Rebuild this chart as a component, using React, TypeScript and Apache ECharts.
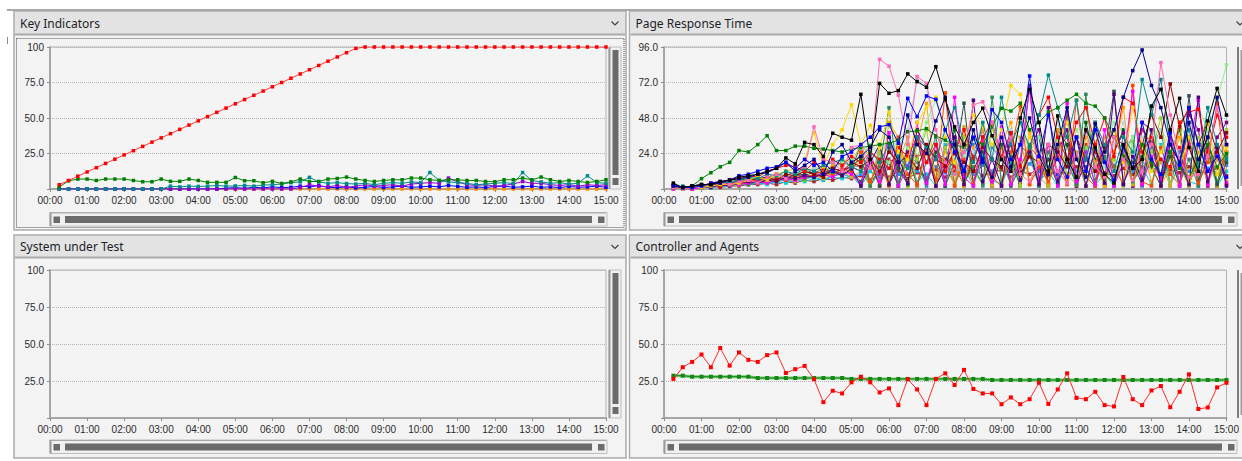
import React, { useEffect, useRef } from "react";
import * as echarts from "echarts";

// ---- axis labels -------------------------------------------------------
const timeLabels = [
  "00:00", "01:00", "02:00", "03:00", "04:00", "05:00", "06:00", "07:00",
  "08:00", "09:00", "10:00", "11:00", "12:00", "13:00", "14:00", "15:00",
];
const percentTickLabels = ["", "25.0", "50.0", "75.0", "100"];
const responseTickLabels = ["", "24.0", "48.0", "72.0", "96.0"];
const SAMPLE_STEP_SECONDS = 15;

// ---- Key Indicators (one sample every 15 s, 00:15 .. 15:00) ------------
const userLoad = [
  3, 6, 9, 12, 15, 18, 21, 24, 27, 30, 33, 36, 39, 42, 45, 48, 51, 54, 57, 60,
  63, 66, 69, 72, 75, 78, 81, 84, 87, 90, 93, 96, 99, 100, 100, 100, 100, 100, 100, 100,
  100, 100, 100, 100, 100, 100, 100, 100, 100, 100, 100, 100, 100, 100, 100, 100, 100, 100, 100, 100,
];
const testsPerSec = [
  1.4, 5.8, 7, 7, 6, 7, 7, 7, 6, 5.1, 5.1, 7, 5.4, 5.4, 7, 6, 4.7, 4.7, 4.7, 8.1,
  5.8, 5.8, 4.4, 5.4, 3.9, 5, 7, 5.3, 5.3, 7, 7.4, 8.4, 7, 6, 5.3, 6, 6.5, 6.5, 7.7, 7.7,
  6.5, 6, 6.5, 6.5, 6, 6, 5.3, 5.1, 6.5, 6.5, 7.7, 6.5, 8.4, 6.5, 5.3, 6, 5.3, 4.6, 5.3, 6.5,
];
const pagesPerSec = [
  0, 0, 0, 0, 0, 0, 0, 0, 0, 0, 0, 0, 2, 1.5, 2, 1.8, 2, 2.5, 2, 2.2,
  2.5, 2, 2.8, 3, 3.5, 4.5, 5, 8.2, 5, 4, 4.5, 3.8, 3.5, 4, 3, 4, 4.5, 4, 5, 4.5,
  11.6, 6, 5, 4.5, 4, 3, 3.5, 4, 4.5, 3.8, 11.6, 6, 5, 4, 4.5, 3.5, 4, 9.3, 4.5, 4,
];
const errorsPerSec = [
  0, 0, 0, 0, 0, 0, 0, 0, 0, 0, 0, 0, 0, 0, 0, 0, 0, 0, 0, 0,
  0, 0, 0, 0, 0, 0, 1, 3, 2, 1.5, 2.5, 1, 2, 3, 2, 2.5, 3, 2, 3.5, 4,
  4.5, 4, 7.7, 5, 3, 2.5, 3, 2, 2.5, 3.5, 5.3, 4, 4, 3, 2.5, 3, 2, 3, 2.5, 3,
];
const avgPageTime = [
  0, 0, 0, 0, 0, 0, 0, 0, 0, 0, 0, 0, 0, 0, 0, 0, 0, 0, 0.6, 1,
  0.5, 1.2, 0.8, 1.5, 1, 1.2, 2, 1.5, 2.4, 1.2, 1, 1.5, 0.8, 1.2, 1.8, 1, 1.5, 2, 1.2, 1.5,
  2, 1.5, 2.5, 1.8, 1.2, 1.5, 1, 1.8, 2, 1.2, 1.5, 2, 1.2, 1.5, 1, 1.8, 1.2, 1.5, 2, 1.2,
];
const avgTestTime = [
  0, 0, 0, 0, 0, 0, 0, 0, 0, 0, 0, 0, 0, 0, 0, 0, 0, 0, 0, 0,
  0, 0, 0, 0, 0, 0, 0, 0, 0, 0, 0, 0, 0, 0, 0, 0, 0, 0, 0, 0,
  0, 0, 0, 0, 0, 0, 0, 0, 0, 0, 0, 0, 0, 0, 0, 0, 0, 0, 0, 0,
];

// ---- Page Response Time (seconds, per page) ----------------------------
const prtLowBrown = [
  1, 0, 0, 1, 2, 1, 2, 2, 3, 3, 4, 3, 5, 4, 6, 5, 7, 6, 8, 7,
  9, 6, 10, 8, 12, 7, 11, 9, 13, 8, 12, 10, 14, 9, 11, 13, 8, 12, 10, 14,
  9, 12, 10, 15, 8, 13, 11, 9, 14, 10, 12, 16, 9, 13, 11, 15, 10, 12, 14, 9,
];
const prtLowDodger = [
  0, 0, 1, 1, 1, 2, 2, 3, 3, 4, 4, 5, 6, 5, 7, 8, 6, 9, 10, 8,
  10, 12, 8, 14, 10, 16, 12, 9, 15, 11, 18, 13, 10, 16, 12, 20, 14, 10, 17, 12,
  15, 10, 18, 12, 20, 14, 10, 16, 22, 12, 18, 14, 20, 10, 16, 12, 18, 14, 10, 16,
];
const prtCyan = [
  0, 0, 1, 1, 1, 2, 2, 3, 3, 4, 3, 5, 4, 6, 5, 7, 6, 8, 7, 9,
  2, 12, 4, 18, 2, 25, 5, 10, 2, 30, 4, 15, 2, 22, 6, 3, 18, 2, 26, 5,
  12, 2, 20, 4, 28, 3, 10, 2, 24, 5, 15, 3, 30, 2, 18, 5, 3, 22, 2, 12,
];
const prtMagenta = [
  0, 1, 0, 1, 2, 2, 3, 3, 4, 5, 4, 6, 7, 6, 8, 9, 10, 8, 12, 10,
  3, 25, 5, 38, 2, 15, 45, 4, 30, 3, 62, 8, 2, 35, 5, 42, 3, 20, 68, 4,
  30, 2, 58, 5, 25, 3, 40, 2, 18, 66, 3, 22, 6, 38, 2, 30, 60, 3, 25, 4,
];
const prtIndigo = [
  1, 0, 1, 2, 1, 3, 2, 4, 5, 4, 6, 5, 8, 7, 9, 8, 10, 12, 9, 14,
  2, 18, 30, 3, 22, 4, 40, 28, 2, 15, 35, 3, 60, 5, 20, 2, 38, 6, 25, 3,
  55, 5, 20, 35, 2, 28, 4, 64, 3, 22, 6, 40, 2, 30, 18, 3, 62, 5, 28, 2,
];
const prtYellowGreen = [
  0, 0, 1, 1, 2, 3, 2, 3, 4, 5, 6, 5, 7, 8, 6, 10, 8, 12, 10, 15,
  18, 3, 25, 6, 32, 2, 20, 40, 5, 28, 2, 36, 12, 3, 44, 6, 25, 2, 30, 8,
  2, 35, 10, 3, 28, 42, 4, 20, 2, 32, 5, 25, 48, 3, 15, 2, 35, 22, 3, 40,
];
const prtTomato = [
  1, 1, 0, 2, 2, 3, 4, 3, 5, 6, 5, 7, 6, 9, 8, 10, 12, 9, 14, 11,
  25, 5, 18, 2, 35, 10, 3, 28, 6, 65, 2, 20, 4, 32, 8, 2, 25, 56, 3, 15,
  5, 22, 3, 60, 8, 2, 30, 15, 3, 70, 5, 2, 28, 10, 3, 35, 4, 18, 58, 3,
];
const prtSlate = [
  2, 1, 1, 2, 3, 2, 4, 5, 4, 6, 7, 6, 8, 9, 10, 8, 11, 13, 10, 12,
  5, 20, 2, 28, 14, 3, 35, 6, 22, 2, 18, 58, 3, 25, 5, 30, 2, 15, 70, 6,
  20, 3, 52, 5, 15, 2, 25, 66, 4, 18, 3, 32, 5, 22, 2, 63, 6, 28, 3, 18,
];
const prtSea = [
  1, 0, 2, 1, 2, 3, 3, 4, 3, 5, 6, 7, 6, 8, 7, 9, 10, 11, 9, 13,
  30, 2, 15, 55, 4, 22, 3, 18, 35, 2, 28, 5, 15, 3, 62, 4, 22, 6, 30, 2,
  25, 4, 18, 3, 64, 6, 22, 2, 30, 5, 15, 56, 3, 25, 4, 20, 2, 35, 5, 22,
];
const prtGoldenrod = [
  0, 1, 1, 1, 2, 2, 3, 4, 3, 5, 4, 6, 7, 5, 8, 9, 7, 10, 12, 8,
  12, 2, 30, 4, 18, 35, 2, 25, 5, 15, 3, 42, 6, 20, 2, 28, 5, 35, 3, 18,
  3, 40, 5, 25, 2, 18, 35, 4, 22, 3, 30, 5, 18, 2, 45, 4, 25, 3, 20, 5,
];
const prtSteel = [
  1, 1, 2, 2, 3, 3, 4, 5, 6, 6, 7, 8, 10, 9, 12, 11, 13, 14, 12, 16,
  15, 2, 12, 20, 3, 22, 18, 2, 25, 20, 3, 25, 30, 2, 28, 20, 3, 30, 22, 2,
  20, 3, 30, 22, 2, 28, 20, 3, 25, 35, 2, 28, 40, 3, 25, 35, 2, 22, 30, 3,
];
const prtCrimson = [
  2, 1, 1, 2, 3, 4, 4, 5, 6, 5, 7, 9, 8, 10, 12, 10, 14, 11, 13, 15,
  12, 18, 2, 20, 17, 3, 22, 25, 2, 20, 15, 3, 22, 18, 2, 30, 20, 3, 28, 22,
  3, 28, 35, 2, 30, 25, 3, 35, 30, 2, 40, 30, 3, 35, 28, 2, 30, 25, 3, 30,
];
const prtDarkGreen = [
  2, 1, 2, 3, 2, 4, 5, 6, 7, 6, 8, 10, 9, 12, 14, 10, 12, 15, 18, 16,
  20, 3, 25, 18, 2, 30, 20, 4, 25, 18, 40, 2, 20, 35, 3, 30, 22, 2, 28, 35,
  2, 40, 30, 3, 45, 20, 2, 25, 40, 3, 22, 15, 2, 25, 40, 3, 20, 35, 2, 25,
];
const prtPurple = [
  1, 0, 1, 1, 2, 3, 3, 4, 4, 5, 6, 6, 8, 10, 9, 12, 10, 14, 12, 15,
  18, 4, 22, 3, 16, 25, 2, 30, 5, 28, 35, 3, 25, 40, 2, 22, 35, 4, 28, 40,
  3, 25, 40, 2, 20, 45, 3, 25, 38, 2, 45, 40, 5, 35, 3, 50, 40, 2, 35, 45,
];
const prtOrange = [
  0, 1, 1, 2, 2, 3, 4, 4, 5, 6, 8, 7, 10, 9, 12, 14, 12, 16, 20, 18,
  30, 22, 3, 45, 35, 2, 30, 58, 4, 25, 18, 2, 28, 40, 3, 30, 45, 2, 38, 25,
  2, 30, 48, 3, 35, 18, 2, 25, 55, 3, 20, 40, 2, 15, 35, 3, 20, 30, 2, 25,
];
const prtLightBlue = [
  1, 1, 2, 2, 3, 4, 5, 5, 6, 8, 7, 9, 10, 12, 11, 14, 16, 18, 15, 20,
  25, 30, 22, 35, 28, 40, 74, 70, 30, 40, 20, 35, 25, 45, 30, 20, 40, 28, 35, 22,
  30, 45, 20, 35, 25, 40, 15, 30, 45, 20, 35, 25, 40, 30, 20, 45, 30, 38, 22, 30,
];
const prtLightGreen = [
  0, 1, 1, 2, 2, 3, 3, 4, 5, 6, 5, 8, 9, 10, 12, 8, 15, 12, 18, 20,
  22, 30, 25, 18, 35, 28, 20, 45, 60, 40, 30, 22, 35, 18, 40, 30, 20, 45, 25, 35,
  20, 30, 15, 40, 25, 12, 30, 45, 20, 35, 15, 40, 28, 20, 45, 30, 55, 40, 60, 84,
];
const prtDarkRed = [
  1, 1, 1, 2, 3, 2, 4, 5, 6, 7, 8, 6, 10, 9, 12, 10, 8, 14, 12, 18,
  15, 20, 12, 25, 18, 22, 14, 30, 20, 16, 24, 18, 12, 28, 20, 15, 30, 10, 22, 18,
  30, 25, 15, 35, 20, 12, 28, 40, 22, 15, 30, 50, 35, 71, 42, 55, 30, 45, 25, 38,
];
const prtRed = [
  2, 1, 2, 2, 4, 5, 6, 7, 9, 8, 12, 14, 16, 15, 12, 18, 14, 20, 16, 22,
  18, 25, 20, 14, 28, 22, 35, 18, 30, 12, 25, 40, 20, 35, 45, 22, 38, 15, 28, 50,
  62, 35, 20, 45, 55, 30, 48, 22, 62, 58, 25, 35, 20, 15, 45, 52, 54, 25, 50, 35,
];
const prtGold = [
  1, 0, 1, 1, 2, 3, 3, 4, 6, 8, 6, 10, 12, 14, 20, 38, 15, 30, 40, 57,
  30, 43, 28, 52, 25, 20, 45, 55, 62, 35, 18, 30, 50, 42, 30, 40, 70, 64, 35, 20,
  12, 30, 45, 20, 8, 38, 25, 40, 18, 55, 30, 12, 25, 40, 15, 35, 20, 45, 10, 28,
];
const prtTeal = [
  1, 2, 1, 2, 3, 5, 4, 6, 8, 7, 10, 9, 12, 10, 14, 12, 16, 18, 20, 15,
  12, 25, 18, 30, 22, 14, 35, 28, 20, 40, 55, 30, 18, 45, 20, 62, 30, 45, 28, 50,
  77, 55, 35, 60, 20, 45, 30, 12, 35, 25, 74, 50, 74, 30, 20, 40, 15, 55, 30, 20,
];
const prtNavy = [
  2, 1, 2, 3, 3, 4, 6, 7, 8, 10, 11, 14, 18, 12, 16, 20, 10, 25, 30, 18,
  22, 28, 40, 35, 18, 50, 30, 24, 46, 62, 30, 12, 40, 20, 8, 35, 15, 30, 48, 22,
  10, 30, 55, 20, 8, 44, 25, 40, 62, 80, 94, 70, 55, 30, 18, 45, 20, 35, 62, 30,
];
const prtGreen = [
  2, 1, 2, 7, 11, 15, 18, 26, 25, 30, 36, 26, 26, 29, 29, 27.5, 27, 26, 25, 27,
  28, 29, 30, 31, 33, 38.7, 39.3, 40.8, 36, 33, 30, 28, 34, 30, 42, 54.6, 52.7, 58, 40, 45,
  52, 55, 60, 64, 58, 56, 48, 35, 22, 15, 30, 18, 10, 25, 14, 8, 20, 30, 15, 24,
];
const prtPink = [
  1, 0, 1, 2, 3, 4, 3, 5, 6, 4, 8, 10, 7, 12, 15, 42, 20, 18, 12, 28,
  30, 14, 87.7, 83, 63.5, 30, 76, 71.4, 40, 18, 10, 25, 56.8, 59, 45, 20, 35, 10, 5, 18,
  30, 12, 4, 22, 40, 15, 8, 35, 20, 6, 12, 30, 85.4, 50, 20, 8, 10, 22, 55, 30,
];
const prtBlue = [
  3, 1, 1, 2, 4, 5, 6, 9, 10, 12, 14, 15, 18, 14, 20, 16, 18, 12, 22, 25,
  30, 35, 42, 43.5, 30.9, 61.3, 49, 62.9, 60.6, 40, 25, 12, 35, 18, 53.6, 45, 20, 30, 76.4, 22,
  50, 20, 8, 35, 12, 40, 18, 6, 28, 14, 45, 20, 10, 38, 16, 55, 30, 12, 22, 8,
];
const prtBlack = [
  4, 1, 2, 3, 3, 5, 6, 8, 9, 10, 12, 14, 21, 17, 31.5, 30, 22, 37.7, 35, 33,
  64, 20, 71.4, 64.7, 66.5, 77.8, 72.6, 68.8, 82.7, 60.6, 42, 30, 45, 54.6, 36, 20, 12, 48, 67.4, 45,
  12, 49.4, 20, 8, 40, 28, 10, 4, 30, 14, 20, 56, 67.4, 40, 61.3, 28, 12, 46, 68, 50,
];

// ---- Controller and Agents ----------------------------------------------
const processorTime = [
  26.4, 34.3, 37.9, 42.9, 34.3, 47.3, 35.4, 44.3, 39.3, 37.9, 42.5, 44.3, 30.4, 33, 35.2, 26.2, 10.7, 18.4, 16.6, 24.1,
  27.9, 24.1, 17.3, 20, 8.7, 26.2, 19.3, 8.7, 26.4, 30.2, 22.3, 32.5, 19.6, 16.6, 16.6, 9.3, 13.9, 9.3, 12.7, 23.8,
  9.5, 19.3, 30.2, 13.6, 12.7, 17.7, 8.7, 7.8, 27.7, 12.7, 8.7, 18.6, 21.6, 7.3, 17.7, 29.5, 6.1, 7.1, 20.7, 23.8,
];
const availableMemory = [
  28.6, 28.6, 27.9, 27.9, 27.9, 27.9, 27.9, 27.9, 27.9, 27, 27, 27, 27, 27, 27, 27, 27, 27, 27, 26.4,
  26.4, 26.4, 26.4, 26.4, 26.4, 26.4, 26.4, 26.4, 26.4, 26.4, 26.4, 26.4, 26.4, 26.4, 25.7, 25.7, 25.7, 25.7, 25.7, 25.7,
  25.7, 25.7, 25.7, 25.7, 25.7, 25.7, 25.7, 25.7, 25.7, 25.7, 25.7, 25.7, 25.7, 25.7, 25.7, 25.7, 25.7, 25.7, 25.7, 25.7,
];

// ---- layout -------------------------------------------------------------
type Box = { x: number; y: number; w: number; h: number };
interface PanelLayout {
  title: string;
  frame: Box;
  headerH: number;
  plot: Box;
  chevronX: number;
  hScrollY: number;
  clippedRight: boolean;
}

const PANELS: PanelLayout[] = [
  { title: "Key Indicators", frame: { x: 14, y: 11, w: 612, h: 219 }, headerH: 24, plot: { x: 50, y: 47, w: 556, h: 142 }, chevronX: 615, hScrollY: 212.5, clippedRight: false },
  { title: "Page Response Time", frame: { x: 629.5, y: 11, w: 620, h: 219 }, headerH: 24, plot: { x: 664, y: 47, w: 572, h: 142 }, chevronX: 1240, hScrollY: 212.5, clippedRight: true },
  { title: "System under Test", frame: { x: 14, y: 235, w: 612, h: 223 }, headerH: 23, plot: { x: 50, y: 270, w: 556, h: 148 }, chevronX: 615, hScrollY: 440, clippedRight: false },
  { title: "Controller and Agents", frame: { x: 629.5, y: 235, w: 620, h: 223 }, headerH: 23, plot: { x: 664, y: 270, w: 572, h: 148 }, chevronX: 1240, hScrollY: 440, clippedRight: true },
];

const SCROLL_DARK = "#6B6B6B";
const LABEL_FONT = "Liberation Sans";

function panelChrome(p: PanelLayout): any[] {
  const { frame, plot } = p;
  const els: any[] = [];
  els.push({
    type: "rect", z: -5,
    shape: { x: frame.x, y: frame.y, width: frame.w, height: frame.h },
    style: { fill: "#F3F3F3", stroke: "#ABABAB", lineWidth: 1.5 },
  });
  els.push({
    type: "rect", z: -4,
    shape: { x: frame.x + 1, y: frame.y + 1, width: frame.w - 2, height: p.headerH - 2 },
    style: { fill: "#E3E3E3" },
  });
  els.push({
    type: "line", z: -3,
    shape: { x1: frame.x + 1, y1: frame.y + p.headerH - 0.5, x2: frame.x + frame.w - 1, y2: frame.y + p.headerH - 0.5 },
    style: { stroke: "#ABABAB", lineWidth: 2 },
  });
  els.push({
    type: "text", z: 10,
    style: {
      x: frame.x + 6, y: frame.y + p.headerH / 2, text: p.title,
      font: "12px 'Noto Sans'", fill: "#1E1E2A", verticalAlign: "middle",
    },
  });
  const cy = frame.y + p.headerH / 2;
  els.push({
    type: "polyline", z: 10,
    shape: { points: [[p.chevronX - 3.5, cy - 1.5], [p.chevronX, cy + 2], [p.chevronX + 3.5, cy - 1.5]] },
    style: { stroke: "#404040", lineWidth: 1.2, fill: null },
  });

  // horizontal scroll bar
  const hy = p.hScrollY;
  els.push({
    type: "rect", z: 1,
    shape: { x: plot.x, y: hy, width: plot.w + 1, height: 13.5 },
    style: { fill: "#F0F0F0", stroke: "#BDBDBD", lineWidth: 1 },
  });
  els.push({ type: "line", z: 2, shape: { x1: plot.x + 0.5, y1: hy, x2: plot.x + 0.5, y2: hy + 13.5 }, style: { stroke: "#9A9A9A", lineWidth: 2 } });
  els.push({ type: "line", z: 2, shape: { x1: plot.x, y1: hy + 0.5, x2: plot.x + plot.w, y2: hy + 0.5 }, style: { stroke: "#A8A8A8", lineWidth: 1 } });
  els.push({ type: "rect", z: 2, shape: { x: plot.x + 3.5, y: hy + 4, width: 6.5, height: 6.5 }, style: { fill: SCROLL_DARK } });
  els.push({ type: "rect", z: 2, shape: { x: plot.x + 15, y: hy + 3.5, width: plot.w - 29, height: 7 }, style: { fill: SCROLL_DARK } });
  els.push({ type: "rect", z: 2, shape: { x: plot.x + plot.w - 8, y: hy + 4, width: 6.5, height: 6.5 }, style: { fill: SCROLL_DARK } });

  // vertical scroll bar
  const vx = plot.x + plot.w + 3;
  if (p.clippedRight) {
    els.push({ type: "line", z: 2, shape: { x1: plot.x + plot.w + 2, y1: plot.y, x2: plot.x + plot.w + 2, y2: plot.y + plot.h }, style: { stroke: "#7E7E7E", lineWidth: 2 } });
    els.push({ type: "rect", z: 2, shape: { x: plot.x + plot.w + 4.5, y: plot.y + 3, width: 4, height: plot.h - 6 }, style: { fill: "#9C9C9C" } });
  } else {
    els.push({
      type: "rect", z: 1,
      shape: { x: vx, y: plot.y, width: 12, height: plot.h },
      style: { fill: "#F0F0F0", stroke: "#BDBDBD", lineWidth: 1 },
    });
    els.push({ type: "line", z: 2, shape: { x1: vx + 0.5, y1: plot.y, x2: vx + 0.5, y2: plot.y + plot.h }, style: { stroke: "#9A9A9A", lineWidth: 2 } });
    els.push({ type: "rect", z: 2, shape: { x: vx + 3.5, y: plot.y + 3, width: 6, height: plot.h - 17 }, style: { fill: SCROLL_DARK } });
    els.push({ type: "rect", z: 2, shape: { x: vx + 3.5, y: plot.y + plot.h - 11, width: 6, height: 7 }, style: { fill: SCROLL_DARK } });
  }
  return els;
}

const toPoints = (values: number[]) =>
  values.map((v, i) => [(i + 1) * SAMPLE_STEP_SECONDS, v]);

function lineSeries(gridIndex: number, values: number[], color: string, opts: any = {}) {
  return {
    type: "line",
    xAxisIndex: gridIndex,
    yAxisIndex: gridIndex,
    data: toPoints(values),
    symbol: "rect",
    symbolSize: opts.symbolSize ?? 4,
    showSymbol: (opts.symbolSize ?? 4) > 0,
    silent: true,
    lineStyle: { width: opts.width ?? 1, color: opts.lineColor ?? color },
    itemStyle: { color },
    emphasis: { disabled: true },
    z: opts.z ?? 2,
  };
}

export default function App() {
  const ref = useRef<HTMLDivElement>(null);

  useEffect(() => {
    if (!ref.current) return;
    const chart = echarts.init(ref.current, undefined, { renderer: "svg" });

    const labelStyle = { fontFamily: LABEL_FONT, fontSize: 10, color: "#2B2B2B" };
    const axisLineStyle = { color: "#A6A6A6", width: 2 };

    const grids = PANELS.map((p) => ({
      left: p.plot.x, top: p.plot.y, width: p.plot.w, height: p.plot.h,
      show: true, backgroundColor: "#F4F4F4", borderColor: "#B2B2B2", borderWidth: 1,
      containLabel: false,
    }));

    const xAxes = PANELS.map((_, i) => ({
      type: "value", gridIndex: i, min: 0, max: 900, interval: 60,
      axisLine: { show: true, onZero: false, lineStyle: axisLineStyle },
      axisTick: { show: true, length: 3, lineStyle: { color: "#8C8C8C" } },
      axisLabel: {
        ...labelStyle, margin: 6, showMinLabel: true, showMaxLabel: true, hideOverlap: false,
        formatter: (v: number) => timeLabels[Math.round(v / 60)] ?? "",
      },
      splitLine: { show: false },
    }));

    const yAxes = PANELS.map((_, i) => {
      const isResponse = i === 1;
      const max = isResponse ? 96 : 100;
      const step = isResponse ? 24 : 25;
      const labels = isResponse ? responseTickLabels : percentTickLabels;
      return {
        type: "value", gridIndex: i, min: 0, max, interval: step,
        axisLine: { show: true, onZero: false, lineStyle: axisLineStyle },
        axisTick: { show: true, length: 3, lineStyle: { color: "#8C8C8C" } },
        axisLabel: {
          ...labelStyle, margin: 6, showMinLabel: true, showMaxLabel: true,
          formatter: (v: number) => labels[Math.round(v / step)] ?? "",
        },
        splitLine: { show: true, lineStyle: { color: "#B4B4B4", type: [1, 1], width: 1 } },
      };
    });

    // drawn bottom-to-top
    const pageSeries: [number[], string][] = [
      [prtLowBrown, "#A52A2A"],
      [prtLowDodger, "#1E90FF"],
      [prtCyan, "#00CED1"],
      [prtSteel, "#4682B4"],
      [prtCrimson, "#DC143C"],
      [prtDarkGreen, "#006400"],
      [prtPurple, "#800080"],
      [prtOrange, "#FFA500"],
      [prtLightBlue, "#ADD8E6"],
      [prtLightGreen, "#90EE90"],
      [prtYellowGreen, "#9ACD32"],
      [prtGoldenrod, "#DAA520"],
      [prtSea, "#2E8B57"],
      [prtSlate, "#2F4F4F"],
      [prtTomato, "#FF4500"],
      [prtMagenta, "#FF00FF"],
      [prtIndigo, "#4B0082"],
      [prtDarkRed, "#8B0000"],
      [prtRed, "#FF0000"],
      [prtGold, "#FFD700"],
      [prtTeal, "#008B8B"],
      [prtGreen, "#008000"],
      [prtPink, "#FF69B4"],
      [prtNavy, "#00008B"],
      [prtBlue, "#0000FF"],
      [prtBlack, "#000000"],
    ];

    const series: any[] = [
      lineSeries(0, avgTestTime, "#FF8C00", { symbolSize: 3.5 }),
      lineSeries(0, avgPageTime, "#0000FF", { symbolSize: 3.5 }),
      lineSeries(0, errorsPerSec, "#9400D3", { symbolSize: 3.5 }),
      lineSeries(0, pagesPerSec, "#008B8B", { symbolSize: 3.5 }),
      lineSeries(0, testsPerSec, "#008000", { symbolSize: 3.5 }),
      lineSeries(0, userLoad, "#FF0000", { lineColor: "#FF3A3A", symbolSize: 3.5, z: 3 }),
      ...pageSeries.map(([vals, color], k) => lineSeries(1, vals, color, { symbolSize: 3.5, z: 2 + k * 0.01 })),
      lineSeries(3, availableMemory, "#74C474", { width: 3, symbolSize: 0 }),
      lineSeries(3, availableMemory, "#118811", { symbolSize: 4, z: 3 }),
      lineSeries(3, processorTime, "#FF0000", { lineColor: "#FF2A2A", z: 4 }),
    ];

    const graphicEls: any[] = [
      { type: "rect", z: -6, shape: { x: 7, y: 9, width: 1235, height: 2 }, style: { fill: "#A9A9A9" } },
      { type: "line", z: -6, shape: { x1: 7.5, y1: 37, x2: 7.5, y2: 44 }, style: { stroke: "#8A8A8A", lineWidth: 1 } },
      ...PANELS.flatMap(panelChrome),
      {
        type: "rect", z: 9,
        shape: { x: 16.5, y: 38.5, width: 607.5, height: 189 },
        style: { fill: null, stroke: "#505050", lineWidth: 1, lineDash: [1, 1] },
      },
    ];

    chart.setOption({
      animation: false,
      backgroundColor: "#FFFFFF",
      grid: grids,
      xAxis: xAxes,
      yAxis: yAxes,
      series,
      graphic: { elements: graphicEls },
    });

    return () => chart.dispose();
  }, []);

  return (
    <div
      ref={ref}
      style={{ position: "fixed", left: 0, top: 0, width: 1242, height: 461 }}
    />
  );
}
